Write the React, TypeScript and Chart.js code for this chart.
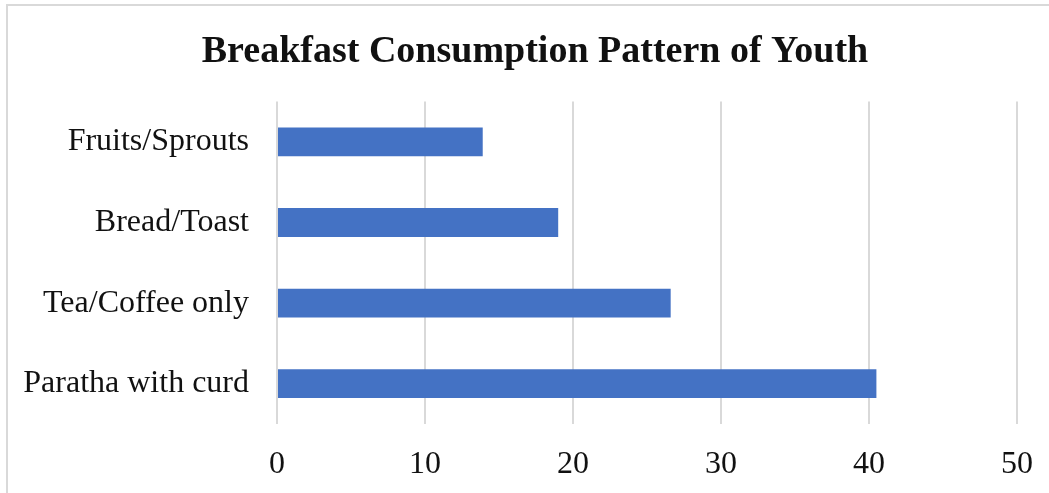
import React, { useEffect, useRef } from "react";
import { Chart, registerables } from "chart.js";

Chart.register(...registerables);

const categories = ["Fruits/Sprouts", "Bread/Toast", "Tea/Coffee only", "Paratha with curd"];
const values = [13.9, 19.0, 26.6, 40.5];
const xTicks = [0, 10, 20, 30, 40, 50];
const titleText = "Breakfast Consumption Pattern of Youth";

const FONT = "'Liberation Serif', 'Times New Roman', serif";
const CANVAS_W = 1070;

export default function App() {
  const ref = useRef<HTMLCanvasElement | null>(null);
  useEffect(() => {
    if (!ref.current) return;
    const chart = new Chart(ref.current, {
      type: "bar",
      data: {
        labels: categories,
        datasets: [
          {
            data: values,
            backgroundColor: "#4472C4",
            borderWidth: 0,
            barPercentage: 0.357,
            categoryPercentage: 1,
          },
        ],
      },
      options: {
        indexAxis: "y",
        animation: false,
        responsive: false,
        maintainAspectRatio: false,
        layout: { padding: 0 },
        plugins: {
          legend: { display: false },
          tooltip: { enabled: false },
          title: {
            display: true,
            text: titleText,
            color: "#111",
            font: { family: FONT, size: 38, weight: "bold" },
            padding: { top: 29, bottom: 27 },
          },
        },
        scales: {
          x: {
            min: 0,
            max: 50,
            afterBuildTicks: (scale: any) => {
              scale.ticks = xTicks.map((v) => ({ value: v }));
            },
            afterFit: (scale: any) => {
              scale.height = 69;
            },
            grid: { color: "#d9d9d9", lineWidth: 2, drawTicks: false },
            border: { display: false },
            ticks: {
              color: "#111",
              font: { family: FONT, size: 32 },
              padding: 21,
            },
          },
          y: {
            grid: { display: false, drawTicks: false },
            border: { display: false },
            afterFit: (scale: any) => {
              scale.width = 277;
            },
            ticks: {
              color: "#111",
              font: { family: FONT, size: 32 },
              padding: 28,
            },
          },
          yRight: {
            type: "category",
            position: "right",
            display: true,
            grid: { display: false, drawTicks: false },
            border: { display: false },
            ticks: { display: false },
            afterFit: (scale: any) => {
              scale.width = CANVAS_W - 1017;
            },
          },
        },
      },
    });
    return () => chart.destroy();
  }, []);
  return (
    <div
      style={{
        position: "fixed",
        left: 0,
        top: 0,
        width: 1049,
        height: 493,
        background: "#fff",
        overflow: "hidden",
      }}
    >
      <div
        style={{
          position: "absolute",
          left: 6,
          top: 4,
          right: 0,
          bottom: -10,
          borderTop: "2px solid #d9d9d9",
          borderLeft: "2px solid #d9d9d9",
        }}
      />
      <canvas
        ref={ref}
        width={CANVAS_W}
        height={493}
        style={{ position: "absolute", left: 0, top: 0 }}
      />
    </div>
  );
}
